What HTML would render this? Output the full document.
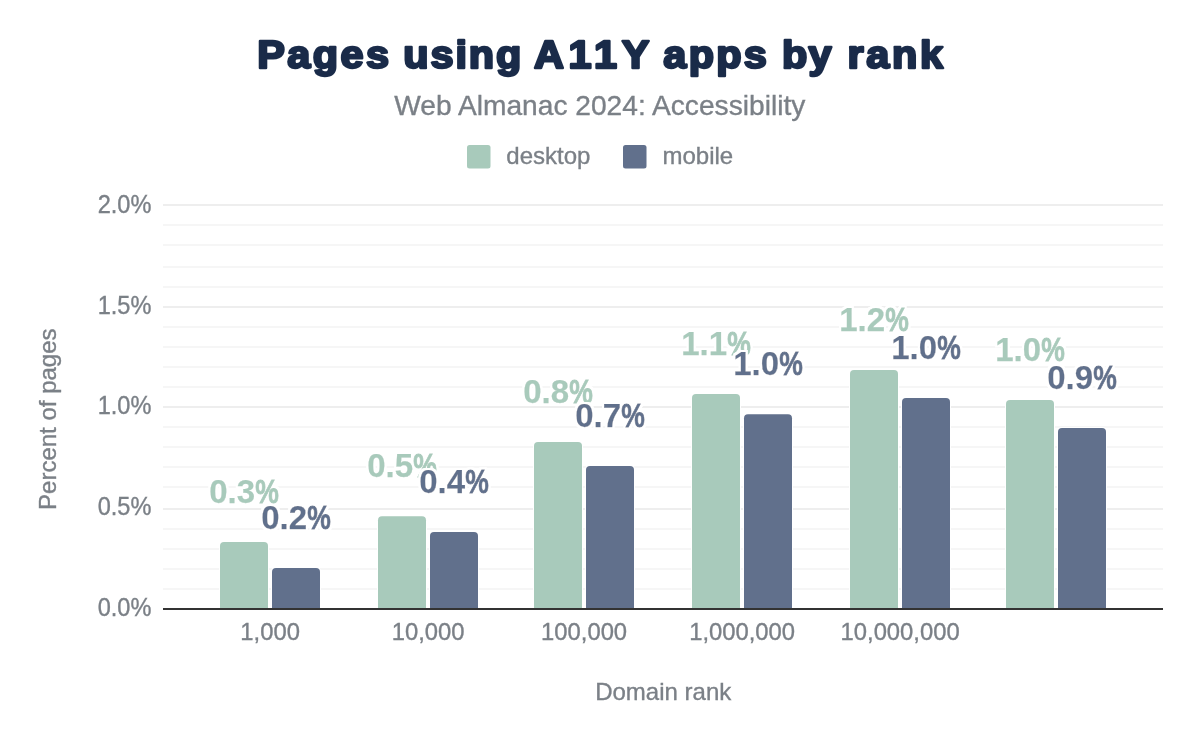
<!DOCTYPE html>
<html lang="en"><head><meta charset="utf-8"><title>Pages using A11Y apps by rank</title>
<style>
html,body{margin:0;padding:0;background:#fff;}
body{width:1200px;height:742px;overflow:hidden;}
svg{display:block;font-family:"Liberation Sans",Arial,sans-serif;}
.ax{font-size:24px;fill:#7b8087;stroke:#7b8087;stroke-width:0.35px;}
.tt{font-size:38px;font-weight:bold;fill:#1a2b49;stroke:#1a2b49;stroke-width:2.4px;stroke-linejoin:round;}
.dl{font-size:33.5px;font-weight:bold;filter:url(#halo);}
.g{fill:#a8cabb;stroke:#a8cabb;}
.b{fill:#61708c;stroke:#61708c;}
.pc{stroke-width:0.8px;}
.nm{stroke-width:0.25px;}
</style></head><body>
<svg width="1200" height="742" viewBox="0 0 1200 742">
<defs><filter id="halo" x="-10%" y="-20%" width="120%" height="140%"><feMorphology in="SourceAlpha" operator="dilate" radius="1.6" result="d"/><feGaussianBlur in="d" stdDeviation="0.4" result="e"/><feFlood flood-color="#fff"/><feComposite in2="e" operator="in" result="h"/><feMerge><feMergeNode in="h"/><feMergeNode in="h"/><feMergeNode in="SourceGraphic"/></feMerge></filter></defs>
<rect width="1200" height="742" fill="#fff"/>
<text class="tt" transform="scale(1.09 1)" y="67.9"><tspan x="236.071" textLength="120.897" lengthAdjust="spacing">Pages</tspan> <tspan x="370.056" textLength="108.218" lengthAdjust="spacing">using</tspan> <tspan x="489.801" textLength="105.886" lengthAdjust="spacing">A11Y</tspan> <tspan x="608.58" textLength="94.9649" lengthAdjust="spacing">apps</tspan> <tspan x="717.406" textLength="45.457" lengthAdjust="spacing">by</tspan> <tspan x="777.626" textLength="87.4764" lengthAdjust="spacing">rank</tspan> </text>
<text class="ax" transform="matrix(1 0 0 1 599.8 114.7)" text-anchor="middle" style="font-size:28px" textLength="411" lengthAdjust="spacingAndGlyphs">Web Almanac 2024: Accessibility</text>
<rect x="467" y="145" width="23.5" height="23.5" rx="2.5" fill="#a8cabb"/>
<text class="ax" transform="matrix(1 0 0 1 506.3 163.7)">desktop</text>
<rect x="623" y="145" width="23.5" height="23.5" rx="2.5" fill="#61708c"/>
<text class="ax" transform="matrix(1 0 0 1 662.5 163.7)">mobile</text>
<rect x="163" y="588" width="1000" height="2" fill="#f6f6f6"/>
<rect x="163" y="568" width="1000" height="2" fill="#f6f6f6"/>
<rect x="163" y="548" width="1000" height="2" fill="#f6f6f6"/>
<rect x="163" y="528" width="1000" height="2" fill="#f6f6f6"/>
<rect x="163" y="508" width="1000" height="2" fill="#eeeeee"/>
<rect x="163" y="486" width="1000" height="2" fill="#f6f6f6"/>
<rect x="163" y="466" width="1000" height="2" fill="#f6f6f6"/>
<rect x="163" y="446" width="1000" height="2" fill="#f6f6f6"/>
<rect x="163" y="426" width="1000" height="2" fill="#f6f6f6"/>
<rect x="163" y="406" width="1000" height="2" fill="#eeeeee"/>
<rect x="163" y="386" width="1000" height="2" fill="#f6f6f6"/>
<rect x="163" y="366" width="1000" height="2" fill="#f6f6f6"/>
<rect x="163" y="346" width="1000" height="2" fill="#f6f6f6"/>
<rect x="163" y="326" width="1000" height="2" fill="#f6f6f6"/>
<rect x="163" y="306" width="1000" height="2" fill="#eeeeee"/>
<rect x="163" y="286" width="1000" height="2" fill="#f6f6f6"/>
<rect x="163" y="266" width="1000" height="2" fill="#f6f6f6"/>
<rect x="163" y="244" width="1000" height="2" fill="#f6f6f6"/>
<rect x="163" y="224" width="1000" height="2" fill="#f6f6f6"/>
<rect x="163" y="204" width="1000" height="2" fill="#eeeeee"/>
<text class="ax" transform="matrix(0.982 0 0 1.06 151.4 615.7)" text-anchor="end">0.0%</text>
<text class="ax" transform="matrix(0.982 0 0 1.06 151.4 514.9)" text-anchor="end">0.5%</text>
<text class="ax" transform="matrix(0.982 0 0 1.06 151.4 414)" text-anchor="end">1.0%</text>
<text class="ax" transform="matrix(0.982 0 0 1.06 151.4 313.6)" text-anchor="end">1.5%</text>
<text class="ax" transform="matrix(0.982 0 0 1.06 151.4 213.1)" text-anchor="end">2.0%</text>
<path d="M220 609 V546 Q220 542 224 542 H264 Q268 542 268 546 V609 Z" fill="#a8cabb" stroke="#fff" stroke-width="2" paint-order="stroke"/>
<path d="M272 609 V572 Q272 568 276 568 H316 Q320 568 320 572 V609 Z" fill="#61708c" stroke="#fff" stroke-width="2" paint-order="stroke"/>
<path d="M378 609 V520.3 Q378 516.3 382 516.3 H422 Q426 516.3 426 520.3 V609 Z" fill="#a8cabb" stroke="#fff" stroke-width="2" paint-order="stroke"/>
<path d="M430 609 V536 Q430 532 434 532 H474 Q478 532 478 536 V609 Z" fill="#61708c" stroke="#fff" stroke-width="2" paint-order="stroke"/>
<path d="M534 609 V446 Q534 442 538 442 H578 Q582 442 582 446 V609 Z" fill="#a8cabb" stroke="#fff" stroke-width="2" paint-order="stroke"/>
<path d="M586 609 V470 Q586 466 590 466 H630 Q634 466 634 470 V609 Z" fill="#61708c" stroke="#fff" stroke-width="2" paint-order="stroke"/>
<path d="M692 609 V398 Q692 394 696 394 H736 Q740 394 740 398 V609 Z" fill="#a8cabb" stroke="#fff" stroke-width="2" paint-order="stroke"/>
<path d="M744 609 V418.2 Q744 414.2 748 414.2 H788 Q792 414.2 792 418.2 V609 Z" fill="#61708c" stroke="#fff" stroke-width="2" paint-order="stroke"/>
<path d="M850 609 V374 Q850 370 854 370 H894 Q898 370 898 374 V609 Z" fill="#a8cabb" stroke="#fff" stroke-width="2" paint-order="stroke"/>
<path d="M902 609 V402 Q902 398 906 398 H946 Q950 398 950 402 V609 Z" fill="#61708c" stroke="#fff" stroke-width="2" paint-order="stroke"/>
<path d="M1006 609 V404 Q1006 400 1010 400 H1050 Q1054 400 1054 404 V609 Z" fill="#a8cabb" stroke="#fff" stroke-width="2" paint-order="stroke"/>
<path d="M1058 609 V432 Q1058 428 1062 428 H1102 Q1106 428 1106 432 V609 Z" fill="#61708c" stroke="#fff" stroke-width="2" paint-order="stroke"/>
<rect x="163" y="608" width="1000" height="2" fill="#333"/>
<text class="dl g" y="503"><tspan class="nm" x="209.2" textLength="45.9" lengthAdjust="spacingAndGlyphs">0.3</tspan><tspan class="pc" x="255.14" textLength="23.6" lengthAdjust="spacingAndGlyphs">%</tspan></text>
<text class="dl g" y="477.3"><tspan class="nm" x="367.2" textLength="45.9" lengthAdjust="spacingAndGlyphs">0.5</tspan><tspan class="pc" x="413.14" textLength="23.6" lengthAdjust="spacingAndGlyphs">%</tspan></text>
<text class="dl g" y="403"><tspan class="nm" x="523.2" textLength="45.9" lengthAdjust="spacingAndGlyphs">0.8</tspan><tspan class="pc" x="569.14" textLength="23.6" lengthAdjust="spacingAndGlyphs">%</tspan></text>
<text class="dl g" y="355"><tspan class="nm" x="681.2" textLength="45.9" lengthAdjust="spacingAndGlyphs">1.1</tspan><tspan class="pc" x="727.14" textLength="23.6" lengthAdjust="spacingAndGlyphs">%</tspan></text>
<text class="dl g" y="331"><tspan class="nm" x="839.2" textLength="45.9" lengthAdjust="spacingAndGlyphs">1.2</tspan><tspan class="pc" x="885.14" textLength="23.6" lengthAdjust="spacingAndGlyphs">%</tspan></text>
<text class="dl g" y="361"><tspan class="nm" x="995.2" textLength="45.9" lengthAdjust="spacingAndGlyphs">1.0</tspan><tspan class="pc" x="1041.14" textLength="23.6" lengthAdjust="spacingAndGlyphs">%</tspan></text>
<text class="dl b" y="529"><tspan class="nm" x="261.2" textLength="45.9" lengthAdjust="spacingAndGlyphs">0.2</tspan><tspan class="pc" x="307.14" textLength="23.6" lengthAdjust="spacingAndGlyphs">%</tspan></text>
<text class="dl b" y="493"><tspan class="nm" x="419.2" textLength="45.9" lengthAdjust="spacingAndGlyphs">0.4</tspan><tspan class="pc" x="465.14" textLength="23.6" lengthAdjust="spacingAndGlyphs">%</tspan></text>
<text class="dl b" y="427"><tspan class="nm" x="575.2" textLength="45.9" lengthAdjust="spacingAndGlyphs">0.7</tspan><tspan class="pc" x="621.14" textLength="23.6" lengthAdjust="spacingAndGlyphs">%</tspan></text>
<text class="dl b" y="375.2"><tspan class="nm" x="733.2" textLength="45.9" lengthAdjust="spacingAndGlyphs">1.0</tspan><tspan class="pc" x="779.14" textLength="23.6" lengthAdjust="spacingAndGlyphs">%</tspan></text>
<text class="dl b" y="359"><tspan class="nm" x="891.2" textLength="45.9" lengthAdjust="spacingAndGlyphs">1.0</tspan><tspan class="pc" x="937.14" textLength="23.6" lengthAdjust="spacingAndGlyphs">%</tspan></text>
<text class="dl b" y="389"><tspan class="nm" x="1047.2" textLength="45.9" lengthAdjust="spacingAndGlyphs">0.9</tspan><tspan class="pc" x="1093.14" textLength="23.6" lengthAdjust="spacingAndGlyphs">%</tspan></text>
<text class="ax" transform="matrix(0.992 0 0 1.02 270.1 639.8)" text-anchor="middle">1,000</text>
<text class="ax" transform="matrix(0.992 0 0 1.02 428.1 639.8)" text-anchor="middle">10,000</text>
<text class="ax" transform="matrix(0.992 0 0 1.02 584.1 639.8)" text-anchor="middle">100,000</text>
<text class="ax" transform="matrix(0.992 0 0 1.02 742.1 639.8)" text-anchor="middle">1,000,000</text>
<text class="ax" transform="matrix(0.992 0 0 1.02 900.1 639.8)" text-anchor="middle">10,000,000</text>
<text class="ax" transform="matrix(1 0 0 1 663.2 700)" text-anchor="middle">Domain rank</text>
<text class="ax" transform="translate(56 419.2) rotate(-90)" text-anchor="middle">Percent of pages</text>
</svg></body></html>
